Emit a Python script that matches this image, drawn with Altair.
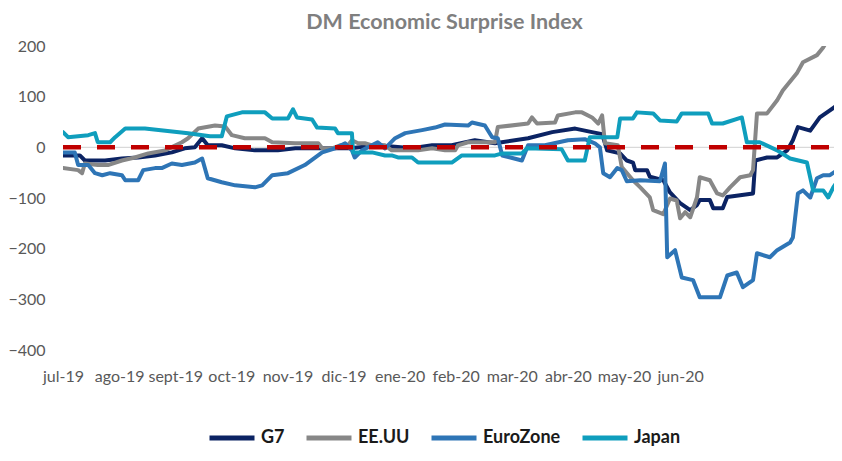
import json
import altair as alt
import pandas as pd

# x = months since jul-19, y = index value
months = ["jul-19", "ago-19", "sept-19", "oct-19", "nov-19", "dic-19",
          "ene-20", "feb-20", "mar-20", "abr-20", "may-20", "jun-20"]
series_names = ["G7", "EE.UU", "EuroZone", "Japan"]
series_colors = ["#0b2363", "#878787", "#2e75b6", "#0f9ebd"]

g7_x = [0, 0.30, 0.39, 0.75, 1.05, 1.34, 1.64, 1.94, 2.17, 2.35, 2.48, 2.58, 2.83, 3.07, 3.42, 3.83,
        4.14, 4.72, 5.12, 5.61, 6.22, 6.58, 6.93, 7.34, 7.70, 8.29, 8.72, 9.13, 9.43, 9.61, 9.70,
        9.93, 10.05, 10.16, 10.20, 10.41, 10.46, 10.70, 10.82, 11.00, 11.18, 11.30, 11.35, 11.53,
        11.59, 11.76, 11.84, 12.30, 12.34, 12.55, 12.73, 12.91, 13.01, 13.10, 13.32, 13.49, 13.67, 13.85]
g7_y = [-16, -16, -26, -26, -22, -20, -16, -10, -2, 0, 18, 4, 4, -2, -6, -6,
        -2, -2, -2, 4, -2, 4, 4, 14, 8, 18, 30, 37, 30, 26, -6,
        -12, -26, -30, -45, -45, -58, -65, -89, -110, -124, -114, -104, -104,
        -120, -120, -98, -91, -26, -20, -20, -6, 14, 40, 33, 59, 73, 87]

us_x = [0, 0.27, 0.34, 0.39, 0.62, 0.80, 1.05, 1.28, 1.52, 1.82, 2.12, 2.23, 2.41, 2.71, 2.89, 3.01,
        3.24, 3.60, 3.73, 4.14, 4.55, 4.62, 4.80, 4.94, 5.08, 5.15, 5.26, 5.38, 5.51, 5.74, 5.86,
        6.33, 6.58, 6.81, 6.99, 7.04, 7.22, 7.70, 7.75, 8.29, 8.36, 8.45, 8.77, 8.82, 9.13, 9.25,
        9.43, 9.54, 9.61, 9.66, 9.89, 9.96, 10.16, 10.29, 10.46, 10.52, 10.70, 10.82, 10.94, 11.00,
        11.09, 11.18, 11.30, 11.35, 11.53, 11.66, 11.76, 11.89, 12.07, 12.25, 12.30, 12.37, 12.55,
        12.73, 12.83, 13.08, 13.19, 13.44, 13.55, 13.67, 13.85]
us_y = [-41, -45, -51, -32, -35, -35, -26, -20, -12, -6, 10, 18, 37, 43, 41, 24,
        18, 18, 10, 8, 8, -2, -2, 4, 4, 14, 8, 8, 4, 4, -6,
        -6, -2, -6, -6, 4, 10, 10, 40, 47, 59, 47, 49, 63, 69, 69,
        59, 47, 63, 8, 4, -39, -65, -79, -99, -124, -132, -101, -105, -140,
        -128, -138, -99, -59, -65, -91, -95, -79, -59, -55, -45, 67, 67,
        93, 112, 146, 168, 182, 197, 221, 241]

ez_x = [0, 0.21, 0.27, 0.45, 0.57, 0.70, 0.84, 1.05, 1.11, 1.34, 1.43, 1.64, 1.76, 1.94, 2.12, 2.35,
        2.48, 2.58, 2.83, 3.07, 3.42, 3.55, 3.73, 4.01, 4.31, 4.62, 4.85, 5.03, 5.15, 5.20, 5.33,
        5.61, 5.74, 5.92, 6.10, 6.40, 6.63, 6.81, 7.22, 7.29, 7.52, 7.65, 7.75, 7.83, 8.18, 8.29,
        8.59, 9.00, 9.30, 9.48, 9.57, 9.63, 9.75, 9.88, 9.96, 10.05, 10.29, 10.64, 10.73, 10.77,
        10.91, 11.03, 11.23, 11.35, 11.71, 11.84, 12.01, 12.12, 12.30, 12.37, 12.60, 12.73, 12.96,
        13.01, 13.10, 13.19, 13.32, 13.44, 13.55, 13.67, 13.80, 13.85]
ez_y = [-10, -10, -35, -35, -51, -55, -51, -55, -65, -65, -45, -41, -41, -32, -35, -30,
        -22, -61, -69, -75, -79, -75, -55, -51, -35, -10, -2, 8, -6, -20, -6,
        10, -2, 18, 28, 34, 39, 45, 43, 49, 43, 20, 18, -16, -26, 4,
        4, 14, 16, 8, 0, -51, -59, -41, -45, -67, -65, -67, -32, -217,
        -203, -257, -262, -296, -296, -253, -247, -276, -262, -209, -217, -203, -188,
        -178, -91, -85, -99, -61, -55, -55, -45, -30]

jp_x = [0, 0.09, 0.45, 0.57, 0.62, 0.84, 0.93, 1.11, 1.46, 2.23, 2.62, 2.83, 2.92, 3.19, 3.60, 3.73,
        4.01, 4.10, 4.17, 4.44, 4.53, 4.85, 4.90, 5.15, 5.17, 5.51, 5.74, 5.86, 5.97, 6.22, 6.33,
        6.93, 7.11, 7.70, 7.83, 8.18, 8.27, 8.89, 9.00, 9.30, 9.39, 9.88, 9.93, 10.16, 10.23,
        10.52, 10.64, 10.94, 11.03, 11.50, 11.57, 11.76, 12.10, 12.19, 12.42, 12.73, 12.96, 13.26,
        13.37, 13.55, 13.64, 13.73, 13.85]
jp_y = [30, 20, 24, 28, 10, 10, 20, 37, 37, 28, 22, 22, 61, 69, 69, 57,
        57, 75, 59, 55, 39, 37, 28, 28, -10, -10, -16, -16, -20, -20, -30,
        -30, -16, -16, -12, -12, -2, -4, -26, -26, 20, 20, 57, 57, 69,
        67, 53, 51, 67, 67, 47, 47, 59, 10, 10, -6, -22, -30,
        -85, -85, -99, -79, -59]

zero_x = [0, 13.85]
zero_y = [0, 0]

rows = []
for name, xs, ys in zip(series_names, [g7_x, us_x, ez_x, jp_x], [g7_y, us_y, ez_y, jp_y]):
    for i, (xv, yv) in enumerate(zip(xs, ys)):
        rows.append({"series": name, "m": xv, "v": yv, "i": i})
df = pd.DataFrame(rows)
zero_df = pd.DataFrame({"m": zero_x, "v": zero_y})

FONT = "Lato"
label_expr = json.dumps(months) + "[datum.value]"

x_enc = alt.X("m:Q", scale=alt.Scale(domain=[0, 13.85], nice=False, zero=False),
              axis=alt.Axis(values=list(range(len(months))), labelExpr=label_expr, title=None,
                            grid=False, domain=False, ticks=False, labelFont=FONT,
                            labelFontSize=16, labelColor="#595959", labelPadding=18,
                            labelFlush=False, labelOverlap=False))
y_enc = alt.Y("v:Q", scale=alt.Scale(domain=[-400, 200], nice=False),
              axis=alt.Axis(values=[-400, -300, -200, -100, 0, 100, 200], title=None,
                            grid=False, domain=False, ticks=False, labelFont=FONT,
                            labelFontSize=16, labelColor="#595959", labelPadding=18))

zero_rule = alt.Chart(zero_df).mark_line(color="#d9d9d9", strokeWidth=1.2).encode(
    x=alt.X("m:Q", scale=alt.Scale(domain=[0, 13.85], nice=False, zero=False)),
    y=alt.Y("v:Q"))

lines = alt.Chart(df).mark_line(strokeWidth=4, clip=True, strokeJoin="round", strokeCap="round").encode(
    x=x_enc,
    y=y_enc,
    color=alt.Color("series:N", sort=series_names,
                    scale=alt.Scale(domain=series_names, range=series_colors),
                    legend=alt.Legend(orient="none", legendX=144, legendY=367, direction="horizontal",
                                      columns=4, title=None, symbolType="stroke",
                                      symbolStrokeWidth=5, symbolSize=2025, labelFont=FONT,
                                      labelFontSize=18, labelFontWeight="bold",
                                      labelColor="#1a1a1a", labelOffset=4, columnPadding=11)),
    order=alt.Order("i:Q"),
)

zero_dash = alt.Chart(zero_df).mark_line(color="#c00000", strokeWidth=4.5, strokeDash=[18, 16]).encode(
    x="m:Q", y="v:Q")

chart = alt.layer(zero_rule, lines, zero_dash).properties(
    width=777, height=304,
    title=alt.Title("DM Economic Surprise Index", font=FONT, fontSize=21.5, fontWeight="bold",
                    color="#7f7f7f", anchor="middle", baseline="alphabetic", offset=8, dy=20, dx=-7),
    autosize=alt.AutoSizeParams(type="none"),
    padding={"left": 55, "top": 38, "right": -6, "bottom": 98},
).configure_view(stroke=None)

chart.save("out.html", embed_options={"renderer": "svg", "actions": False})
